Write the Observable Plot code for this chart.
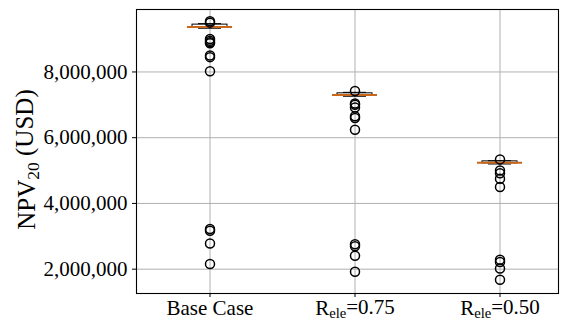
<!DOCTYPE html>
<html>
<head>
<meta charset="utf-8">
<script src="https://cdn.jsdelivr.net/npm/d3@7"></script>
<script src="https://cdn.jsdelivr.net/npm/@observablehq/plot@0.6"></script>
<style>
  html, body { margin: 0; padding: 0; background: #fff; }
  #chart { width: 565px; height: 320px; }
  #chart svg, #chart svg text, #chart svg g { font-family: "Liberation Serif", "DejaVu Serif", serif !important; }
</style>
</head>
<body>
<div id="chart"></div>
<script>
// ---- data (USD) ----
const categories = ["Base Case", "R_ele=0.75", "R_ele=0.50"];
const medians   = [9370000, 7300000, 5240000];
const q1s       = [9350000, 7280000, 5220000];
const q3s       = [9440000, 7350000, 5280000];
const whiskLo   = [9330000, 7260000, 5200000];
const whiskHi   = [9470000, 7380000, 5300000];

const outliersBase = [9540000, 9500000, 9000000, 8950000, 8900000, 8870000, 8500000, 8450000, 8020000, 3220000, 3170000, 2780000, 2160000];
const outliers075  = [7420000, 7040000, 7000000, 6920000, 6650000, 6600000, 6240000, 2760000, 2700000, 2410000, 1920000];
const outliers050  = [5340000, 5000000, 4920000, 4750000, 4500000, 2290000, 2220000, 2020000, 1680000];

const yTicks = [2000000, 4000000, 6000000, 8000000];
const yLabel = "NPV20 (USD)";

// ---- tables built from the arrays ----
const boxes = categories.map((c, i) => ({
  cat: c, med: medians[i], q1: q1s[i], q3: q3s[i], lo: whiskLo[i], hi: whiskHi[i]
}));
const outlierLists = [outliersBase, outliers075, outliers050];
const fliers = outlierLists.flatMap((arr, i) => arr.map(v => ({cat: categories[i], v})));

const gridColor = "#b0b0b0";
const medianColor = "#c8661a";
const serif = "Liberation Serif";

const svg = Plot.plot({
  width: 565,
  height: 320,
  marginLeft: 136,
  marginRight: 7,
  marginTop: 9,
  marginBottom: 27,
  style: {fontSize: "21px", color: "black", background: "white", fontFamily: serif},
  x: {type: "band", domain: categories, range: [136.5, 571.5], paddingInner: 0.69, paddingOuter: 0.345, label: null},
  y: {domain: [1260000, 9900000], label: null},
  marks: [
    Plot.gridY(yTicks, {stroke: gridColor, strokeOpacity: 1, strokeWidth: 1}),
    Plot.gridX(categories, {stroke: gridColor, strokeOpacity: 1, strokeWidth: 1}),
    Plot.ruleX(boxes, {x: "cat", y1: "lo", y2: "q1", stroke: "black", strokeWidth: 1}),
    Plot.ruleX(boxes, {x: "cat", y1: "q3", y2: "hi", stroke: "black", strokeWidth: 1}),
    Plot.tickY(boxes, {x: "cat", y: "lo", stroke: "black", strokeWidth: 1, insetLeft: 11, insetRight: 11}),
    Plot.tickY(boxes, {x: "cat", y: "hi", stroke: "black", strokeWidth: 1, insetLeft: 11, insetRight: 11}),
    Plot.barY(boxes, {x: "cat", y1: "q1", y2: "q3", fill: "none", stroke: "black", strokeWidth: 1, insetLeft: 5, insetRight: 5}),
    Plot.tickY(boxes, {x: "cat", y: "med", stroke: medianColor, strokeWidth: 2}),
    Plot.dot(fliers, {x: "cat", y: "v", r: 4.5, stroke: "black", fill: "none", strokeWidth: 1.5}),
    Plot.frame({stroke: "black", strokeWidth: 1.1}),
    Plot.axisY(yTicks, {tickFormat: d3.format(","), tickSize: 4, tickPadding: 5, label: null, fontFamily: serif, fontSize: 21}),
    Plot.axisX(categories, {tickSize: 4, tickPadding: 3, label: null, fontFamily: serif, fontSize: 21}),
    Plot.text([yLabel], {frameAnchor: "left", dx: -110, dy: 8, rotate: -90, textAnchor: "middle", lineAnchor: "middle", fontSize: 25, fontFamily: serif})
  ]
});

document.getElementById("chart").appendChild(svg);

// force serif on every text node
d3.select(svg).selectAll("text").style("font-family", serif);

// subscripts: "NPV20" and "R_ele"
d3.select(svg).selectAll("text").each(function() {
  const t = this.textContent;
  const sel = d3.select(this);
  if (t === yLabel) {
    sel.text(null);
    sel.append("tspan").text("NPV");
    sel.append("tspan").attr("font-size", "70%").attr("dy", "0.25em").text("20");
    sel.append("tspan").attr("dy", "-0.25em").text(" (USD)");
  } else {
    const m = /^R_ele(=.*)$/.exec(t);
    if (m) {
      sel.text(null);
      sel.append("tspan").text("R");
      sel.append("tspan").attr("font-size", "70%").attr("dy", "0.2em").text("ele");
      sel.append("tspan").attr("dy", "-0.2em").text(m[1]);
    }
  }
});
</script>
</body>
</html>
